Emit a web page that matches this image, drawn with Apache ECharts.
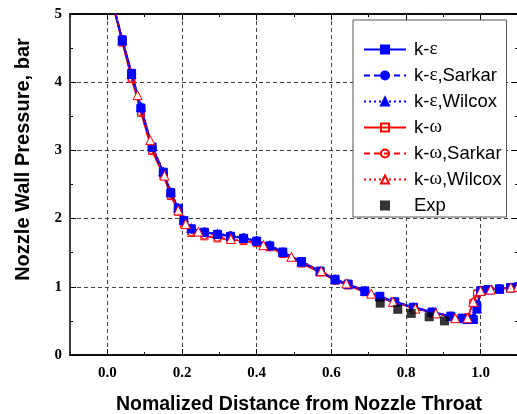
<!DOCTYPE html>
<html>
<head>
<meta charset="utf-8">
<script src="https://cdn.jsdelivr.net/npm/echarts@6/dist/echarts.min.js"></script>
<style>
  html, body { margin: 0; padding: 0; background: #fff; }
  #chart { width: 517px; height: 414px; }
</style>
</head>
<body>
<div id="chart"></div>
<script>
// x positions of the computed points
var xsModel = [0.015, 0.04, 0.065, 0.09, 0.12, 0.15, 0.17, 0.19, 0.205, 0.225, 0.26, 0.295, 0.33, 0.365, 0.40, 0.435, 0.47, 0.52, 0.57, 0.61, 0.645, 0.69, 0.73, 0.77, 0.82, 0.87, 0.92, 0.95, 0.965, 0.98, 0.99, 1.0, 1.02, 1.05, 1.08, 1.1];
var kEps = [5.15, 4.62, 4.13, 3.62, 3.05, 2.68, 2.38, 2.15, 1.97, 1.85, 1.80, 1.77, 1.74, 1.71, 1.67, 1.60, 1.51, 1.37, 1.23, 1.11, 1.04, 0.94, 0.86, 0.78, 0.70, 0.63, 0.57, 0.54, 0.52, 0.52, 0.70, 0.94, 0.96, 0.97, 0.99, 1.00];
var kEpsSarkar = [5.16, 4.63, 4.12, 3.63, 3.04, 2.67, 2.37, 2.14, 1.96, 1.85, 1.80, 1.77, 1.75, 1.72, 1.67, 1.60, 1.50, 1.36, 1.22, 1.10, 1.03, 0.93, 0.85, 0.77, 0.69, 0.62, 0.56, 0.53, 0.52, 0.53, 0.74, 0.95, 0.96, 0.97, 0.99, 1.00];
var kEpsWilcox = [5.14, 4.61, 4.12, 3.64, 3.06, 2.69, 2.39, 2.16, 1.98, 1.86, 1.81, 1.78, 1.75, 1.72, 1.68, 1.61, 1.51, 1.37, 1.23, 1.11, 1.04, 0.94, 0.86, 0.78, 0.70, 0.63, 0.57, 0.54, 0.53, 0.54, 0.68, 0.94, 0.96, 0.97, 0.99, 1.00];
var kOmega = [5.12, 4.58, 4.05, 3.55, 2.99, 2.63, 2.33, 2.10, 1.92, 1.79, 1.74, 1.71, 1.69, 1.67, 1.64, 1.58, 1.48, 1.34, 1.21, 1.09, 1.02, 0.92, 0.84, 0.77, 0.69, 0.62, 0.56, 0.53, 0.55, 0.76, 0.90, 0.95, 0.96, 0.97, 0.98, 0.99];
var kOmegaSarkar = [5.13, 4.59, 4.06, 3.56, 3.00, 2.64, 2.34, 2.11, 1.93, 1.80, 1.75, 1.72, 1.70, 1.68, 1.65, 1.58, 1.48, 1.35, 1.22, 1.10, 1.03, 0.93, 0.85, 0.77, 0.69, 0.62, 0.56, 0.53, 0.56, 0.78, 0.91, 0.95, 0.96, 0.97, 0.98, 0.99];
// k-omega Wilcox was plotted with fewer points
var xsWilcox = [0.005, 0.081, 0.115, 0.153, 0.19, 0.21, 0.244, 0.331, 0.418, 0.493, 0.573, 0.640, 0.707, 0.765, 0.825, 0.880, 0.932, 0.965, 0.980, 1.000, 1.027, 1.081, 1.1];
var kOmegaWilcox = [5.35, 3.81, 3.15, 2.63, 2.12, 1.92, 1.81, 1.70, 1.61, 1.44, 1.23, 1.05, 0.90, 0.78, 0.68, 0.61, 0.54, 0.54, 0.78, 0.94, 0.96, 0.99, 1.00];
// experiment
var xsExp = [0.731, 0.778, 0.814, 0.862, 0.903];
var pExp = [0.76, 0.67, 0.61, 0.56, 0.50];

var xLabels = [0.0, 0.2, 0.4, 0.6, 0.8, 1.0];
var legendNames = ['k-ε', 'k-ε,Sarkar', 'k-ε,Wilcox', 'k-ω', 'k-ω,Sarkar', 'k-ω,Wilcox', 'Exp'];

var echart = echarts.init(document.getElementById('chart'));

function pairs(xs, ys) {
  return xs.map(function(x, i) { return [x, ys[i]]; });
}

function lineSeries(name, xs, ys, color, type, symbol, size, fill, width) {
  return {
    name: name,
    type: 'line',
    data: pairs(xs, ys),
    symbol: symbol,
    symbolSize: size,
    showAllSymbol: true,
    clip: true,
    lineStyle: { color: color, width: width, type: type },
    itemStyle: { color: fill, borderColor: color, borderWidth: 1 },
    emphasis: { disabled: true },
    z: 3
  };
}

var dashed = [6, 4];
var dotted = [2, 3];

function xAxisDef(pos, major) {
  var a = {
    type: 'value',
    position: pos,
    min: -0.1,
    max: 1.1,
    interval: 0.1,
    axisLine: { show: true, onZero: false, lineStyle: { color: '#000', width: 1.5 } },
    axisTick: { show: true, inside: true, length: major ? 6 : 3, lineStyle: { color: '#000', width: 1 } },
    axisLabel: { show: false },
    splitLine: { show: false }
  };
  if (major) {
    a.axisTick.customValues = xLabels;
    if (pos == 'bottom') {
      a.axisLabel = {
        show: true,
        customValues: xLabels,
        margin: 11,
        color: '#000',
        fontFamily: 'Liberation Serif',
        fontWeight: 'bold',
        fontSize: 15,
        formatter: function(v) { return v.toFixed(1); }
      };
      a.splitLine = { show: true, lineStyle: { color: '#444', type: [4, 3], width: 1 } };
      a.name = 'Nomalized Distance from Nozzle Throat';
      a.nameLocation = 'middle';
      a.nameGap = 40;
      a.nameTextStyle = { color: '#000', fontFamily: 'Liberation Sans', fontWeight: 'bold', fontSize: 19.5, padding: [0, 0, 0, 10] };
    }
  }
  return a;
}

function yAxisDef(pos) {
  var a = {
    type: 'value',
    position: pos,
    min: 0,
    max: 5,
    interval: 1,
    axisLine: { show: true, onZero: false, lineStyle: { color: '#000', width: 1.5 } },
    axisTick: { show: true, inside: true, length: 6, lineStyle: { color: '#000', width: 1 } },
    minorTick: { show: true, splitNumber: 2, length: 3, lineStyle: { color: '#000', width: 1 } },
    axisLabel: { show: false },
    splitLine: { show: false }
  };
  if (pos == 'left') {
    a.axisLabel = {
      show: true,
      margin: 8,
      color: '#000',
      fontFamily: 'Liberation Serif',
      fontWeight: 'bold',
      fontSize: 15
    };
    a.splitLine = { show: true, lineStyle: { color: '#444', type: [4, 3], width: 1 } };
    a.name = 'Nozzle Wall Pressure, bar';
    a.nameLocation = 'middle';
    a.nameGap = 37;
    a.nameTextStyle = { color: '#000', fontFamily: 'Liberation Sans', fontWeight: 'bold', fontSize: 20, padding: [0, 0, 0, 50] };
  }
  return a;
}

var option = {
  animation: false,
  backgroundColor: '#fff',
  grid: { left: 70, top: 14, width: 448, height: 341, outerBoundsMode: 'none', containLabel: false },
  xAxis: [xAxisDef('bottom', true), xAxisDef('bottom', false), xAxisDef('top', true), xAxisDef('top', false)],
  yAxis: [yAxisDef('left'), yAxisDef('right')],
  legend: {
    orient: 'vertical',
    left: 353,
    top: 20,
    padding: [20, 5, 2, 10],
    itemGap: 7,
    itemWidth: 42,
    itemHeight: 10,
    borderColor: '#555',
    borderWidth: 1,
    backgroundColor: '#fff',
    selectedMode: false,
    textStyle: {
      color: '#000',
      fontFamily: 'Liberation Sans',
      fontSize: 18.5,
      lineHeight: 18,
      padding: [0, 0, 0, 3],
      rich: { g: { fontFamily: 'Liberation Serif', fontSize: 19, color: '#000' } }
    },
    formatter: function(name) {
      return name.replace(/([εω])/, '{g|$1}');
    },
    data: legendNames.map(function(n) {
      return n == 'Exp' ? { name: n, icon: 'path://M0,0L10,0L10,10L0,10Z' } : n;
    })
  },
  series: [
    lineSeries('k-ω', xsModel, kOmega, '#ff0000', 'solid', 'rect', 7, 'rgba(255,255,255,0)', 1.5),
    lineSeries('k-ω,Sarkar', xsModel, kOmegaSarkar, '#ff0000', dashed, 'circle', 7, 'rgba(255,255,255,0)', 1.5),
    lineSeries('k-ε', xsModel, kEps, '#0000ff', 'solid', 'rect', 8, '#0000ff', 2),
    lineSeries('k-ε,Sarkar', xsModel, kEpsSarkar, '#0000ff', dashed, 'circle', 8, '#0000ff', 2),
    lineSeries('k-ε,Wilcox', xsModel, kEpsWilcox, '#0000ff', dotted, 'triangle', 9, '#0000ff', 2),
    lineSeries('k-ω,Wilcox', xsWilcox, kOmegaWilcox, '#ff0000', dotted, 'triangle', 9, '#fff', 1.5),
    {
      name: 'Exp',
      type: 'scatter',
      data: pairs(xsExp, pExp),
      symbol: 'rect',
      symbolSize: 9,
      itemStyle: { color: '#000' },
      emphasis: { disabled: true },
      z: 4
    }
  ]
};
echart.setOption(option);
</script>
</body>
</html>
